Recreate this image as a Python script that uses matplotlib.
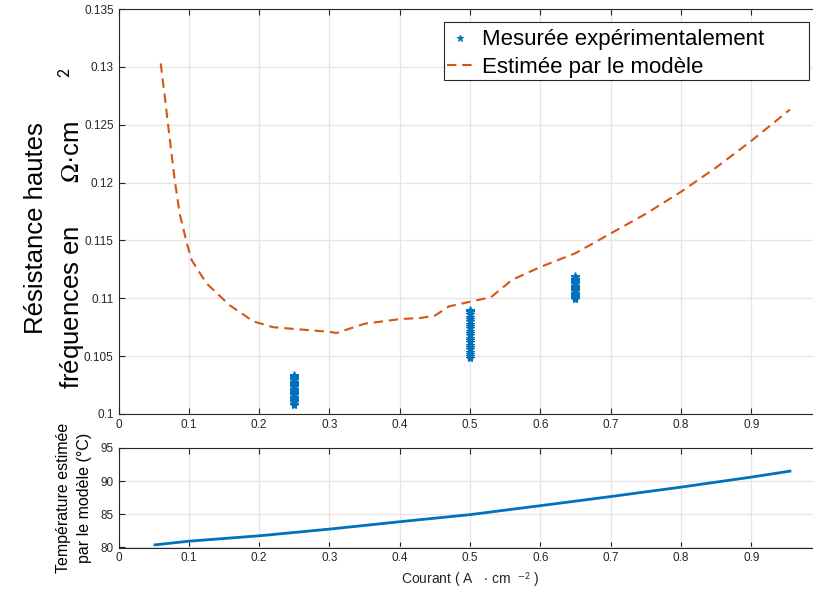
import matplotlib.pyplot as plt
from matplotlib.patches import Rectangle
import numpy as np

plt.rcParams['font.family'] = ['Liberation Sans', 'DejaVu Sans']
plt.rcParams['mathtext.fontset'] = 'stix'

# courbe du modele (resistance HF)
courant_modele = [0.060, 0.066, 0.073, 0.080, 0.087, 0.097, 0.104, 0.125, 0.158, 0.192, 0.22,
                  0.26, 0.30, 0.31, 0.35, 0.40, 0.43, 0.45, 0.47, 0.50, 0.53, 0.56, 0.60,
                  0.65, 0.70, 0.75, 0.80, 0.85, 0.90, 0.955]
resistance_modele = [0.1303, 0.1273, 0.1237, 0.1202, 0.1173, 0.1148, 0.1133, 0.1113, 0.1094,
                     0.1080, 0.1075, 0.1073, 0.1071, 0.1070, 0.1078, 0.1082, 0.1083, 0.1085,
                     0.1093, 0.1097, 0.1101, 0.1116, 0.1127, 0.1139, 0.1156, 0.1173, 0.1192,
                     0.1213, 0.1236, 0.1263]

# mesures experimentales (3 courants)
r_025 = [0.1008, 0.1009, 0.1010, 0.1011, 0.1012, 0.1013, 0.1014, 0.1015, 0.1016, 0.1017,
         0.1018, 0.1019, 0.1020, 0.1021, 0.1022, 0.1023, 0.1024, 0.1025, 0.1026, 0.1027,
         0.1028, 0.1029, 0.1030, 0.1031, 0.1032, 0.1033, 0.1034]
r_050 = [0.1048, 0.1050, 0.1052, 0.1054, 0.1056, 0.1058, 0.1060, 0.1062, 0.1064, 0.1066,
         0.1068, 0.1070, 0.1072, 0.1074, 0.1076, 0.1078, 0.1080, 0.1082, 0.1084, 0.1086,
         0.1088, 0.1089, 0.1090]
r_065 = [0.1099, 0.1100, 0.1101, 0.1102, 0.1103, 0.1104, 0.1105, 0.1106, 0.1107, 0.1108,
         0.1109, 0.1110, 0.1111, 0.1112, 0.1113, 0.1114, 0.1115, 0.1116, 0.1117, 0.1118, 0.1119]

courant_mesure = [0.25] * len(r_025) + [0.50] * len(r_050) + [0.65] * len(r_065)
resistance_mesure = r_025 + r_050 + r_065

# temperature estimee
courant_temp = [0.052, 0.1, 0.2, 0.3, 0.4, 0.5, 0.6, 0.7, 0.8, 0.9, 0.955]
temperature = [80.4, 80.95, 81.76, 82.77, 83.88, 84.95, 86.3, 87.67, 89.09, 90.6, 91.5]

x_ticks = [0, 0.1, 0.2, 0.3, 0.4, 0.5, 0.6, 0.7, 0.8, 0.9]

bleu = '#0072BD'
orange = '#D95319'

fig = plt.figure(figsize=(8.13, 6.0), dpi=100)
ax1 = fig.add_axes([0.1458, 0.31, 0.8647, 0.675])
ax2 = fig.add_axes([0.1458, 0.0875, 0.8647, 0.166])

for ax in (ax1, ax2):
    ax.set_xlim(0, 1)
    ax.set_xticks(x_ticks)
    ax.set_xticklabels([f'{t:g}' for t in x_ticks])
    ax.grid(True, color='#e6e6e6', linewidth=1)
    ax.set_axisbelow(True)
    ax.tick_params(direction='in', top=True, right=False, labelsize=8.5,
                   colors='#262626', length=4)
    for s in ax.spines.values():
        s.set_color('#262626')
    ax.spines['right'].set_visible(False)

ax1.plot(courant_mesure, resistance_mesure, '*', color=bleu, markersize=6,
         markeredgewidth=0.8, label='Mesurée expérimentalement')
ax1.plot(courant_modele, resistance_modele, '--', color=orange, linewidth=1.5,
         dashes=(4.5, 2.8), label='Estimée par le modèle')
ax1.set_ylim(0.1, 0.135)
ax1.set_yticks(np.arange(0.1, 0.1351, 0.005))
ax1.set_yticklabels(['0.1', '0.105', '0.11', '0.115', '0.12', '0.125', '0.13', '0.135'])
ax1.set_ylabel('Résistance hautes\nfréquences en      $\\Omega$·cm      $^{\\mathsf{2}}$',
               fontsize=18.5, labelpad=-2, linespacing=1.35)
ax1.yaxis.label.set_y(0.46)

# cadre de legende façon MATLAB (plus large que le texte)
cadre = Rectangle((444 / 813, 1 - 80 / 600), 365 / 813, 58 / 600, transform=fig.transFigure,
                  facecolor='white', edgecolor='#262626', linewidth=0.8, zorder=4.9)
ax1.add_patch(cadre)
leg = ax1.legend(loc='upper left', bbox_to_anchor=(444 / 813, 1 - 26 / 600),
                 bbox_transform=fig.transFigure, fontsize=16, frameon=False,
                 borderpad=0.15, handlelength=1.1, handletextpad=0.45, labelspacing=0.3,
                 borderaxespad=0, markerscale=0.8)
leg.set_zorder(5)

ax2.plot(courant_temp, temperature, '-', color=bleu, linewidth=2)
ax2.set_ylim(80, 95)
ax2.set_yticks([80, 85, 90, 95])
ax2.set_ylabel('Température estimée\npar le modèle (°C)', fontsize=11.5, labelpad=6,
               linespacing=1.5)
ax2.set_xlabel('Courant ( A   $\\cdot$ cm  $^{\\mathsf{-2}}$ )', fontsize=10, color='#262626')

fig.savefig('out.png', dpi=100)
